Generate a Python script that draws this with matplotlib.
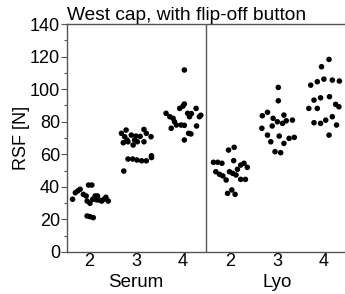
import matplotlib
matplotlib.use('Agg')
import matplotlib.pyplot as plt
import matplotlib.transforms as mtransforms
from matplotlib.ticker import MultipleLocator

plt.rcParams['font.family'] = ['Liberation Sans', 'DejaVu Sans']

# Valores (posición x con dispersión, RSF en N)
serum2_x = [0.65, 0.71, 0.76, 0.81, 0.88, 0.94, 0.99, 1.06, 0.96, 1.02, 0.96, 1.02,
            1.09, 1.08, 1.13, 1.18, 1.22, 1.32, 1.36, 1.41, 1.27, 1.16]
serum2_y = [32.4, 36.4, 37.5, 38.5, 35.4, 34.4, 41.1, 41.1, 31.3, 29.9, 22.1, 21.7,
            21.1, 32.4, 34.4, 34.4, 31.9, 32.4, 33.6, 31.3, 31.3, 32.0]

serum3_x = [1.74, 1.73, 1.83, 1.94, 2.03, 2.17, 1.83, 1.93, 2.02, 2.12, 2.22, 2.33,
            2.33, 1.69, 1.76, 1.81, 1.90, 1.97, 2.00, 2.09, 2.17, 2.22, 2.32, 1.79]
serum3_y = [49.7, 67.1, 67.7, 65.7, 67.7, 67.7, 57.1, 57.1, 56.5, 56.0, 56.0, 59.1,
            58.0, 72.9, 70.8, 68.8, 71.8, 68.8, 71.2, 71.0, 75.3, 72.9, 70.8, 74.9]

serum4_x = [3.03, 2.64, 2.72, 2.79, 2.82, 2.75, 2.86, 2.96, 3.03, 2.93, 3.00, 3.03,
            3.10, 3.14, 3.18, 3.28, 3.35, 3.29, 3.12, 3.17, 3.03, 3.38]
serum4_y = [111.8, 85.2, 83.1, 82.1, 80.0, 76.0, 78.0, 78.0, 77.8, 88.2, 89.6, 90.9,
            85.2, 83.1, 85.0, 88.2, 83.1, 77.4, 72.9, 72.5, 68.8, 84.0]

lyo2_x = [3.65, 3.74, 3.83, 3.70, 3.78, 3.85, 3.92, 3.95, 4.04, 4.11, 3.97, 4.09,
          3.99, 4.06, 4.13, 4.08, 4.16, 4.23, 4.30, 4.37, 4.23, 4.33]
lyo2_y = [55.1, 55.1, 54.5, 49.3, 47.7, 46.7, 44.2, 36.0, 38.1, 35.4, 62.6, 64.3,
          49.3, 48.3, 47.3, 56.1, 50.8, 53.4, 54.5, 52.0, 44.6, 44.6]

lyo3_x = [5.03, 5.03, 4.69, 4.80, 4.68, 4.80, 4.92, 4.90, 5.01, 5.12, 5.15, 5.20,
          5.33, 5.05, 5.15, 5.26, 5.37, 4.87, 4.96, 5.08]
lyo3_y = [101.1, 92.9, 83.7, 85.8, 76.0, 71.8, 82.1, 77.4, 80.0, 79.0, 84.1, 80.6,
          81.0, 71.2, 66.7, 69.8, 70.4, 67.7, 61.6, 61.0]

lyo4_x = [6.11, 5.95, 5.72, 5.86, 6.00, 6.18, 6.33, 5.79, 5.93, 6.12, 6.25, 6.32,
          5.68, 5.86, 5.79, 5.93, 6.04, 6.18, 6.27, 6.11]
lyo4_y = [118.3, 113.8, 102.5, 104.6, 106.2, 105.6, 105.0, 93.3, 94.7, 95.4, 90.7, 89.2,
          88.2, 88.2, 79.4, 79.0, 81.0, 83.1, 78.0, 71.8]

tick_pos = [1, 2, 3, 4, 5, 6]
tick_labels = ['2', '3', '4', '2', '3', '4']
group_pos = [2, 5]
group_labels = ['Serum', 'Lyo']


def main():
    fig = plt.figure(figsize=(3.45, 2.94), dpi=100)
    ax = fig.add_axes([0.194, 0.143, 0.806, 0.775])

    grupos = [(serum2_x, serum2_y), (serum3_x, serum3_y), (serum4_x, serum4_y),
              (lyo2_x, lyo2_y), (lyo3_x, lyo3_y), (lyo4_x, lyo4_y)]
    for gx, gy in grupos:
        ax.scatter(gx, gy, s=16, c='black', edgecolors='none', zorder=3)

    ax.axvline(3.5, color='#555555', lw=1.0)

    ax.set_xlim(0.53, 6.45)
    ax.set_ylim(0, 140)
    ax.yaxis.set_major_locator(MultipleLocator(20))
    ax.yaxis.set_minor_locator(MultipleLocator(10))
    ax.set_xticks(tick_pos)
    ax.set_xticklabels(tick_labels)

    for lado in ['left', 'bottom', 'top']:
        ax.spines[lado].set_color('#555555')
        ax.spines[lado].set_linewidth(1.0)
    ax.spines['right'].set_visible(False)

    ax.tick_params(axis='y', which='major', direction='out', length=4,
                   width=0.8, color='#555555', labelsize=13, pad=1)
    ax.tick_params(axis='y', which='minor', direction='out', length=2,
                   width=0.8, color='#555555')
    ax.tick_params(axis='x', which='major', length=0, labelsize=13, pad=1)

    ax.set_ylabel('RSF [N]', fontsize=13, labelpad=0)
    ax.set_title('West cap, with flip-off button', loc='left', fontsize=13.8, pad=2)

    trans = mtransforms.blended_transform_factory(ax.transData, fig.transFigure)
    for gp, gl in zip(group_pos, group_labels):
        ax.text(gp, 0.01, gl, transform=trans, ha='center', va='bottom', fontsize=13.5)

    fig.savefig('out.png', dpi=100)


if __name__ == '__main__':
    main()
